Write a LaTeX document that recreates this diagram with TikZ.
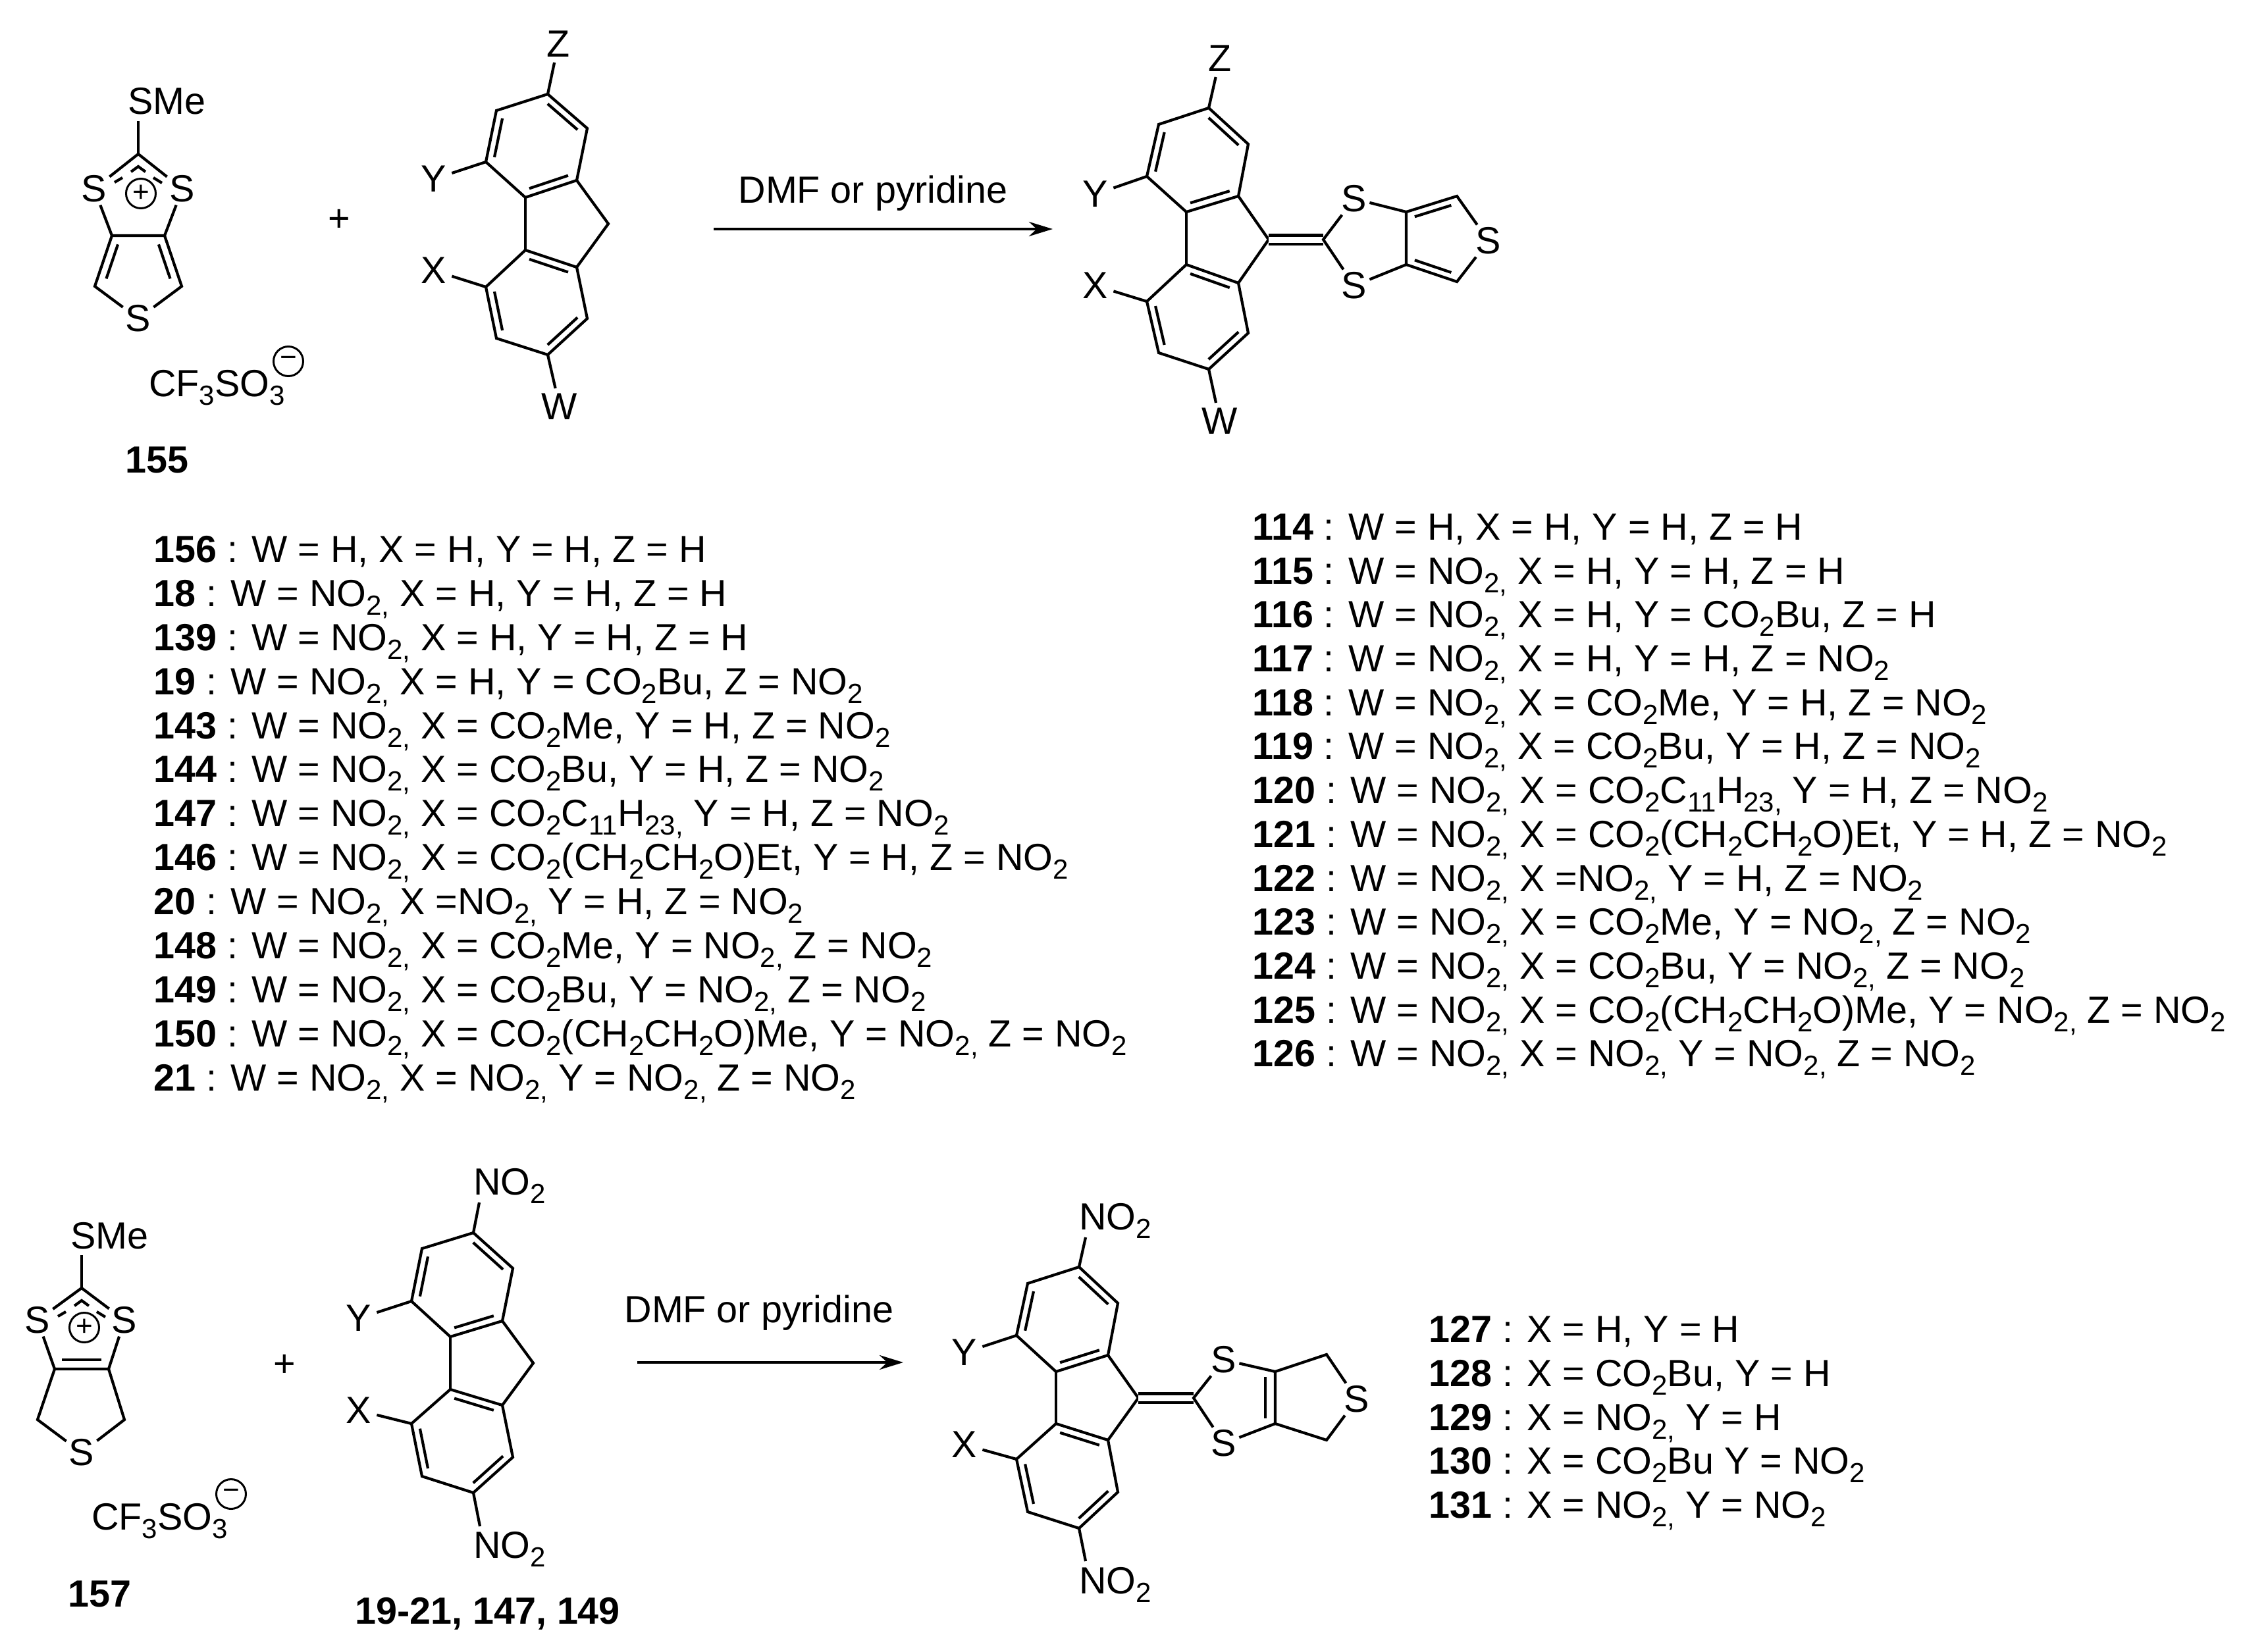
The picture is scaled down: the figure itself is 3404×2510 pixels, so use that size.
\documentclass[tikz,border=0pt]{standalone}
\usepackage{fontspec}
\setmainfont{Liberation Sans}
\usepackage{tikz}
\usetikzlibrary{arrows.meta, calc}
\newcommand{\chemfont}{\fontsize{57.5}{60}\selectfont}
\newcommand{\lowtext}[1]{\raisebox{-13pt}{\fontsize{42}{42}\selectfont #1}}
\newcommand{\nitro}{NO\lowtext{2}}
\newcommand{\nitroc}{NO\lowtext{2,}}
\newcommand{\carbo}{CO\lowtext{2}}
\newcommand{\inbond}[4][.16]{\draw[bond] ($(#2)!.05!(#3)!#1!(#4)$) -- ($(#3)!.05!(#2)!#1!(#4)$);}
\newcommand{\fluorenebonds}[1]{
  \coordinate (#1ca) at ($(#1a1)!.5!(#1a4)$);
  \coordinate (#1cb) at ($(#1b1)!.5!(#1b4)$);
  \draw[bond] (#1a1) -- (#1a2) -- (#1a3) -- (#1a4) -- (#1a5) -- (#1a6) -- cycle;
  \draw[bond] (#1b1) -- (#1b2) -- (#1b3) -- (#1b4) -- (#1b5) -- (#1b6) -- cycle;
  \draw[bond] (#1a3) -- (#1m) -- (#1b3);
  \draw[bond] (#1a4) -- (#1b4);
  \inbond{#1a1}{#1a2}{#1ca}
  \inbond{#1a3}{#1a4}{#1ca}
  \inbond{#1a5}{#1a6}{#1ca}
  \inbond{#1b1}{#1b2}{#1cb}
  \inbond{#1b3}{#1b4}{#1cb}
  \inbond{#1b5}{#1b6}{#1cb}
}
\newcommand{\cationdash}[1]{
  \draw[bond] ($(#1)+(-36,43)$) -- ($(#1)+(-24,36)$);
  \draw[bond] ($(#1)+(-11,27)$) -- ($(#1)+(0,19)$) -- ($(#1)+(11,27)$);
  \draw[bond] ($(#1)+(23,36)$) -- ($(#1)+(36,44)$);
}
\tikzset{
  bond/.style={line width=4.2pt, line join=miter},
  atom/.style={inner sep=4pt},
  subst/.style={inner sep=8pt},
  textrow/.style={anchor=base west, inner sep=0pt},
  chg/.style={circle, draw, line width=3pt, minimum size=45pt, inner sep=0pt, font=\fontsize{44}{44}\selectfont},
  rxnarrow/.style={line width=4.2pt, -{Stealth[length=36pt, width=22pt]}}
}
\begin{document}
\begin{tikzpicture}[x=1pt, y=-1pt, every node/.style={font=\chemfont}]
  \useasboundingbox (0,0) rectangle (3404,2510);
  % salt 155
  \coordinate (tc2) at (210,234);
  \coordinate (tc4) at (170,358);
  \coordinate (tc5) at (250,358);
  \coordinate (tc3) at (144,435);
  \coordinate (tc6) at (276,435);
  \coordinate (tmid) at (210,400);
  \coordinate (tend) at (210,184);
  \node[textrow] (tsme) at (194,174) {SMe};
  \node[atom] (ts1) at (143,287) {S};
  \node[atom] (ts2) at (277,287) {S};
  \node[atom] (ts3) at (210,484) {S};
  \node[chg] (tplus) at (214,294) {+};
  \draw[bond] (tc2) -- (tend);
  \draw[bond] (ts1) -- (tc2) -- (ts2);
  \draw[bond] (ts1) -- (tc4) -- (tc5) -- (ts2);
  \draw[bond] (tc4) -- (tc3) -- (ts3) -- (tc6) -- (tc5);
  \inbond[.25]{tc4}{tc3}{tmid}
  \inbond[.25]{tc5}{tc6}{tmid}
  \cationdash{tc2}
  \node[textrow] (tanion) at (226,602) {CF\lowtext{3}SO\lowtext{3}};
  \node[chg] (tminus) at (438,549) {\textminus};
  \node[textrow, font=\chemfont\bfseries] (n155) at (190,718) {155};
  \node (plusa) at (515,335) {+};
  % fluorene, first row
  \coordinate (fa1) at (832,143);
  \coordinate (fa2) at (892,195);
  \coordinate (fa3) at (876,274);
  \coordinate (fa4) at (798,300);
  \coordinate (fa5) at (738,246);
  \coordinate (fa6) at (754,168);
  \coordinate (fm) at (924,340);
  \coordinate (fb1) at (832,539);
  \coordinate (fb2) at (892,484);
  \coordinate (fb3) at (876,406);
  \coordinate (fb4) at (798,380);
  \coordinate (fb5) at (738,436);
  \coordinate (fb6) at (754,514);
  \fluorenebonds{f}
  \node[subst] (fz) at (848,67) {Z};
  \node[subst] (fy) at (659,272) {Y};
  \node[subst] (fx) at (659,411) {X};
  \node[subst] (fw) at (850,618) {W};
  \draw[bond] (fa1) -- (fz);
  \draw[bond] (fa5) -- (fy);
  \draw[bond] (fb5) -- (fx);
  \draw[bond] (fb1) -- (fw);
  % first arrow
  \coordinate (aras) at (1084,348);
  \coordinate (arae) at (1599,348);
  \draw[rxnarrow] (aras) -- (arae);
  \node[anchor=base, inner sep=0pt] (dmfa) at (1326,308) {DMF or pyridine};
  % product, first row
  \coordinate (pa1) at (1836,164);
  \coordinate (pa2) at (1896,219);
  \coordinate (pa3) at (1881,298);
  \coordinate (pa4) at (1802,322);
  \coordinate (pa5) at (1742,268);
  \coordinate (pa6) at (1760,189);
  \coordinate (pm) at (1927,364);
  \coordinate (pb1) at (1836,561);
  \coordinate (pb2) at (1896,506);
  \coordinate (pb3) at (1881,430);
  \coordinate (pb4) at (1802,402);
  \coordinate (pb5) at (1742,458);
  \coordinate (pb6) at (1760,536);
  \fluorenebonds{p}
  \node[subst] (pz) at (1853,89) {Z};
  \node[subst] (py) at (1664,295) {Y};
  \node[subst] (px) at (1664,434) {X};
  \node[subst] (pw) at (1853,640) {W};
  \draw[bond] (pa1) -- (pz);
  \draw[bond] (pa5) -- (py);
  \draw[bond] (pb5) -- (px);
  \draw[bond] (pb1) -- (pw);
  \coordinate (pc2) at (2010,364);
  \coordinate (pr1) at (2136,322);
  \coordinate (pr2) at (2136,402);
  \coordinate (pr3) at (2213,298);
  \coordinate (pr4) at (2213,428);
  \coordinate (prmid) at (2185,363);
  \node[atom] (ps1) at (2057,302) {S};
  \node[atom] (ps2) at (2057,434) {S};
  \node[atom] (ps3) at (2261,366) {S};
  \draw[bond, double, double distance=9pt] (pm) -- (pc2);
  \draw[bond] (ps1) -- (pc2) -- (ps2);
  \draw[bond] (ps1) -- (pr1) -- (pr2) -- (ps2);
  \draw[bond] (pr1) -- (pr3) -- (ps3) -- (pr4) -- (pr2);
  \inbond[.2]{pr1}{pr3}{prmid}
  \inbond[.2]{pr2}{pr4}{prmid}
  % left list
  \node[textrow] (l156) at (233,854) {\textbf{156} : W = H, X = H, Y = H, Z = H};
  \node[textrow] (l18) at (233,921) {\textbf{18} : W = \nitroc\ X = H, Y = H, Z = H};
  \node[textrow] (l139) at (233,988) {\textbf{139} : W = \nitroc\ X = H, Y = H, Z = H};
  \node[textrow] (l19) at (233,1055) {\textbf{19} : W = \nitroc\ X = H, Y = \carbo{}Bu, Z = \nitro};
  \node[textrow] (l143) at (233,1122) {\textbf{143} : W = \nitroc\ X = \carbo{}Me, Y = H, Z = \nitro};
  \node[textrow] (l144) at (233,1188) {\textbf{144} : W = \nitroc\ X = \carbo{}Bu, Y = H, Z = \nitro};
  \node[textrow] (l147) at (233,1255) {\textbf{147} : W = \nitroc\ X = \carbo{}C\lowtext{11}H\lowtext{23,} Y = H, Z = \nitro};
  \node[textrow] (l146) at (233,1322) {\textbf{146} : W = \nitroc\ X = \carbo{}(CH\lowtext{2}CH\lowtext{2}O)Et, Y = H, Z = \nitro};
  \node[textrow] (l20) at (233,1389) {\textbf{20} : W = \nitroc\ X =\nitroc\ Y = H, Z = \nitro};
  \node[textrow] (l148) at (233,1456) {\textbf{148} : W = \nitroc\ X = \carbo{}Me, Y = \nitroc\ Z = \nitro};
  \node[textrow] (l149) at (233,1523) {\textbf{149} : W = \nitroc\ X = \carbo{}Bu, Y = \nitroc\ Z = \nitro};
  \node[textrow] (l150) at (233,1590) {\textbf{150} : W = \nitroc\ X = \carbo{}(CH\lowtext{2}CH\lowtext{2}O)Me, Y = \nitroc\ Z = \nitro};
  \node[textrow] (l21) at (233,1657) {\textbf{21} : W = \nitroc\ X = \nitroc\ Y = \nitroc\ Z = \nitro};
  % right list
  \node[textrow] (r114) at (1902,820) {\textbf{114} : W = H, X = H, Y = H, Z = H};
  \node[textrow] (r115) at (1902,887) {\textbf{115} : W = \nitroc\ X = H, Y = H, Z = H};
  \node[textrow] (r116) at (1902,953) {\textbf{116} : W = \nitroc\ X = H, Y = \carbo{}Bu, Z = H};
  \node[textrow] (r117) at (1902,1020) {\textbf{117} : W = \nitroc\ X = H, Y = H, Z = \nitro};
  \node[textrow] (r118) at (1902,1087) {\textbf{118} : W = \nitroc\ X = \carbo{}Me, Y = H, Z = \nitro};
  \node[textrow] (r119) at (1902,1153) {\textbf{119} : W = \nitroc\ X = \carbo{}Bu, Y = H, Z = \nitro};
  \node[textrow] (r120) at (1902,1220) {\textbf{120} : W = \nitroc\ X = \carbo{}C\lowtext{11}H\lowtext{23,} Y = H, Z = \nitro};
  \node[textrow] (r121) at (1902,1287) {\textbf{121} : W = \nitroc\ X = \carbo{}(CH\lowtext{2}CH\lowtext{2}O)Et, Y = H, Z = \nitro};
  \node[textrow] (r122) at (1902,1354) {\textbf{122} : W = \nitroc\ X =\nitroc\ Y = H, Z = \nitro};
  \node[textrow] (r123) at (1902,1420) {\textbf{123} : W = \nitroc\ X = \carbo{}Me, Y = \nitroc\ Z = \nitro};
  \node[textrow] (r124) at (1902,1487) {\textbf{124} : W = \nitroc\ X = \carbo{}Bu, Y = \nitroc\ Z = \nitro};
  \node[textrow] (r125) at (1902,1554) {\textbf{125} : W = \nitroc\ X = \carbo{}(CH\lowtext{2}CH\lowtext{2}O)Me, Y = \nitroc\ Z = \nitro};
  \node[textrow] (r126) at (1902,1620) {\textbf{126} : W = \nitroc\ X = \nitroc\ Y = \nitroc\ Z = \nitro};
  % salt 157
  \coordinate (uc2) at (124,1957);
  \coordinate (uc4) at (83,2080);
  \coordinate (uc5) at (165,2080);
  \coordinate (uc3) at (57,2157);
  \coordinate (uc6) at (189,2157);
  \coordinate (umid) at (124,2010);
  \coordinate (uend) at (124,1907);
  \node[textrow] (usme) at (107,1897) {SMe};
  \node[atom] (us1) at (57,2006) {S};
  \node[atom] (us2) at (189,2006) {S};
  \node[atom] (us3) at (124,2207) {S};
  \node[chg] (uplus) at (128,2017) {+};
  \draw[bond] (uc2) -- (uend);
  \draw[bond] (us1) -- (uc2) -- (us2);
  \draw[bond] (us1) -- (uc4) -- (uc5) -- (us2);
  \draw[bond] (uc4) -- (uc3) -- (us3) -- (uc6) -- (uc5);
  \inbond[.2]{uc4}{uc5}{umid}
  \cationdash{uc2}
  \node[textrow] (uanion) at (139,2324) {CF\lowtext{3}SO\lowtext{3}};
  \node[chg] (uminus) at (351,2270) {\textminus};
  \node[textrow, font=\chemfont\bfseries] (n157) at (103,2441) {157};
  \node (plusb) at (432,2075) {+};
  % dinitrofluorene
  \coordinate (ga1) at (719,1873);
  \coordinate (ga2) at (779,1927);
  \coordinate (ga3) at (763,2007);
  \coordinate (ga4) at (684,2031);
  \coordinate (ga5) at (625,1977);
  \coordinate (ga6) at (641,1897);
  \coordinate (gm) at (810,2071);
  \coordinate (gb1) at (719,2268);
  \coordinate (gb2) at (779,2214);
  \coordinate (gb3) at (763,2135);
  \coordinate (gb4) at (684,2111);
  \coordinate (gb5) at (625,2163);
  \coordinate (gb6) at (641,2243);
  \fluorenebonds{g}
  \coordinate (gtop) at (728,1827);
  \coordinate (gbot) at (729,2319);
  \node[textrow] (gz) at (719,1815) {\nitro};
  \node[textrow] (gw) at (719,2367) {\nitro};
  \node[subst] (gy) at (545,2003) {Y};
  \node[subst] (gx) at (545,2143) {X};
  \draw[bond] (ga1) -- (gtop);
  \draw[bond] (gb1) -- (gbot);
  \draw[bond] (ga5) -- (gy);
  \draw[bond] (gb5) -- (gx);
  \node[textrow, font=\chemfont\bfseries] (n19) at (539,2467) {19-21, 147, 149};
  % second arrow
  \coordinate (arbs) at (968,2070);
  \coordinate (arbe) at (1372,2070);
  \draw[rxnarrow] (arbs) -- (arbe);
  \node[anchor=base, inner sep=0pt] (dmfb) at (1153,2009) {DMF or pyridine};
  % product, second row
  \coordinate (qa1) at (1639,1925);
  \coordinate (qa2) at (1698,1980);
  \coordinate (qa3) at (1683,2059);
  \coordinate (qa4) at (1604,2084);
  \coordinate (qa5) at (1544,2029);
  \coordinate (qa6) at (1561,1950);
  \coordinate (qm) at (1729,2124);
  \coordinate (qb1) at (1639,2322);
  \coordinate (qb2) at (1698,2267);
  \coordinate (qb3) at (1683,2188);
  \coordinate (qb4) at (1604,2163);
  \coordinate (qb5) at (1544,2217);
  \coordinate (qb6) at (1561,2297);
  \fluorenebonds{q}
  \coordinate (qtop) at (1649,1880);
  \coordinate (qbot) at (1649,2372);
  \node[textrow] (qz) at (1639,1868) {\nitro};
  \node[textrow] (qw) at (1639,2421) {\nitro};
  \node[subst] (qy) at (1465,2055) {Y};
  \node[subst] (qx) at (1465,2195) {X};
  \draw[bond] (qa1) -- (qtop);
  \draw[bond] (qb1) -- (qbot);
  \draw[bond] (qa5) -- (qy);
  \draw[bond] (qb5) -- (qx);
  \coordinate (qc2) at (1813,2124);
  \coordinate (qr1) at (1937,2084);
  \coordinate (qr2) at (1937,2163);
  \coordinate (qr3) at (2015,2058);
  \coordinate (qr4) at (2015,2188);
  \node[atom] (qs1) at (1859,2066) {S};
  \node[atom] (qs2) at (1859,2193) {S};
  \node[atom] (qs3) at (2061,2126) {S};
  \draw[bond, double, double distance=9pt] (qm) -- (qc2);
  \draw[bond] (qs1) -- (qc2) -- (qs2);
  \draw[bond] (qs1) -- (qr1) -- (qr2) -- (qs2);
  \draw[bond] (qr1) -- (qr3) -- (qs3) -- (qr4) -- (qr2);
  \inbond[.12]{qr1}{qr2}{qc2}
  % lower list
  \node[textrow] (l127) at (2170,2039) {\textbf{127} : X = H, Y = H};
  \node[textrow] (l128) at (2170,2106) {\textbf{128} : X = \carbo{}Bu, Y = H};
  \node[textrow] (l129) at (2170,2173) {\textbf{129} : X = \nitroc\ Y = H};
  \node[textrow] (l130) at (2170,2239) {\textbf{130} : X = \carbo{}Bu Y = \nitro};
  \node[textrow] (l131) at (2170,2306) {\textbf{131} : X = \nitroc\ Y = \nitro};
\end{tikzpicture}
\end{document}
